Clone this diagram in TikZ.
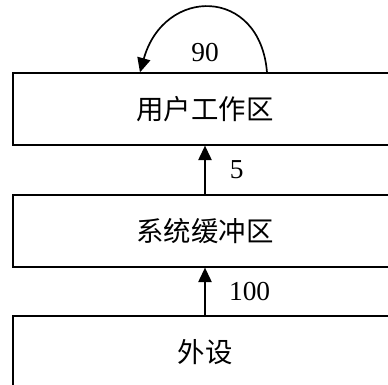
\documentclass[tikz,border=0pt]{standalone}
\usepackage{fontspec}
\setmainfont{Liberation Serif}
\newfontfamily\cjk{Noto Sans CJK SC}
\usepackage{tikz}
\usetikzlibrary{positioning,arrows.meta}

\begin{document}
\begin{tikzpicture}[
    font=\fontsize{19.5}{21}\selectfont,
    area/.style={draw, line width=0.9pt, minimum width=9.6cm, minimum height=1.8cm, font=\fontsize{19.5}{21}\selectfont\cjk},
    flow/.style={line width=1.2pt, -{Triangle[length=3.6mm,width=3.3mm]}},
    num/.style={inner sep=0pt}
]
    \useasboundingbox (0, 0) rectangle (9.7, 9.625);
    \clip (0, 0) rectangle (9.7, 9.625); % boxes run off the right edge
    \node [area] (user) at (5.125, 6.9) {用户工作区};
    \node [area] (sysbuf) at (5.125, 3.85) {系统缓冲区};
    \node [area] (device) at (5.125, 0.825) {外设};
    \draw [flow] (sysbuf.north) -- (user.south) node [num, midway, right=0.6cm] {5};
    \draw [flow] (device.north) -- (sysbuf.south) node [num, midway, right=0.58cm] {100};
    \draw [flow] ([xshift=1.55cm]user.north) .. controls +(-0.175, 2.15) and +(0.6, 2.15) .. ([xshift=-1.625cm]user.north);
    \node [num, above=0.27cm of user] (loopnum) {90};
\end{tikzpicture}
\end{document}
